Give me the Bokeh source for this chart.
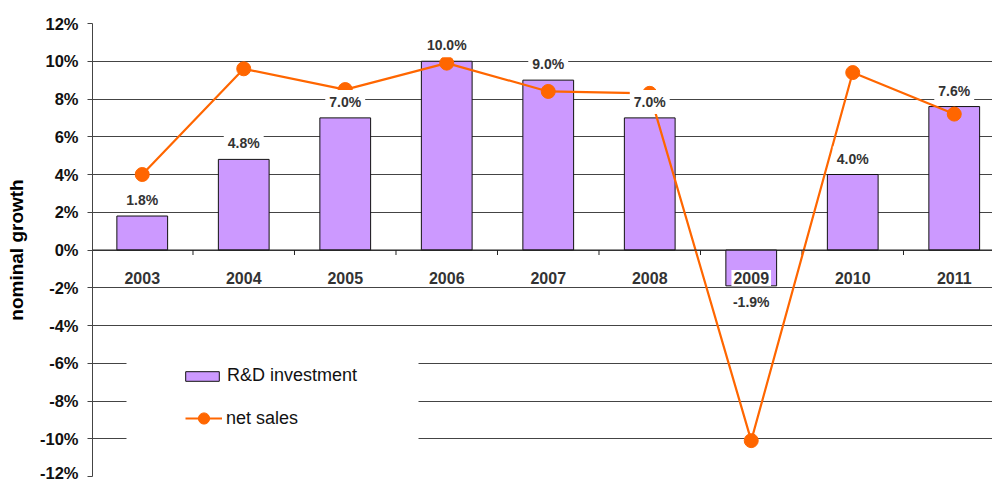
import math
from bokeh.plotting import figure
from bokeh.models import (ColumnDataSource, Range1d, FixedTicker, PrintfTickFormatter,
                          Legend, LegendItem, Span, BoxAnnotation)
from bokeh.core.properties import value
from bokeh.embed import file_html
from bokeh.resources import INLINE

# ---- data ----
years = ["2003", "2004", "2005", "2006", "2007", "2008", "2009", "2010", "2011"]
rd_investment = [1.8, 4.8, 7.0, 10.0, 9.0, 7.0, -1.9, 4.0, 7.6]
net_sales = [4.0, 9.6, 8.5, 9.9, 8.4, 8.3, -10.1, 9.4, 7.2]
y_ticks = [-12, -10, -8, -6, -4, -2, 0, 2, 4, 6, 8, 10, 12]

FONT = value("Liberation Sans")
PURPLE = "#CC99FF"
ORANGE = "#FF6600"
GRID = "#444444"

xs = list(range(len(years)))
src = ColumnDataSource(dict(
    x=xs,
    year=years,
    rd=rd_investment,
    sales=net_sales,
    rd_label=[f"{v:.1f}%" for v in rd_investment],
    rd_off=[-16 if v >= 0 else 16 for v in rd_investment],
    zero=[0] * len(years),
))
bounds = ColumnDataSource(dict(x=[i + 0.5 for i in xs], y=[0] * len(xs)))

p = figure(width=992, height=481, output_backend="svg", toolbar_location=None,
           x_range=Range1d(-0.49, 8.377), y_range=Range1d(y_ticks[0], y_ticks[-1]),
           min_border_left=92, min_border_right=0, min_border_top=23, min_border_bottom=5)
p.outline_line_color = None
p.background_fill_color = "white"
p.border_fill_color = "white"
p.xaxis.visible = False

# y axis
p.yaxis.ticker = FixedTicker(ticks=y_ticks)
p.yaxis.formatter = PrintfTickFormatter(format="%d%%")
p.yaxis.major_label_text_font = "Liberation Sans"
p.yaxis.major_label_text_font_style = "bold"
p.yaxis.major_label_text_font_size = "16.5px"
p.yaxis.major_label_text_color = "#111111"
p.yaxis.major_tick_out = 5
p.yaxis.major_tick_in = 0
p.yaxis.minor_tick_line_color = None
p.yaxis.major_label_standoff = 9
p.yaxis.axis_line_color = GRID
p.yaxis.major_tick_line_color = GRID
p.yaxis.axis_label = "nominal growth"
p.yaxis.axis_label_text_font = "Liberation Sans"
p.yaxis.axis_label_text_font_style = "bold"
p.yaxis.axis_label_text_font_size = "19px"
p.yaxis.axis_label_text_color = "#000000"
p.yaxis.axis_label_standoff = 10

# grid
p.xgrid.grid_line_color = None
p.ygrid.ticker = FixedTicker(ticks=y_ticks)
p.ygrid.grid_line_color = GRID
p.ygrid.grid_line_width = 1

# white backdrop behind the legend (covers grid lines)
p.add_layout(BoxAnnotation(left=34, right=326, bottom=11, top=146,
                           left_units="screen", right_units="screen",
                           bottom_units="screen", top_units="screen",
                           fill_color="white", fill_alpha=1.0, line_color=None,
                           level="underlay"))

# bars and line
bars = p.vbar(x="x", top="rd", bottom=0, width=0.5, source=src,
              fill_color=PURPLE, line_color="#111111", line_width=1)

# category axis line at zero with boundary ticks
p.add_layout(Span(location=0, dimension="width", line_color="#222222", line_width=1))
p.ray(x="x", y="y", length=5, length_units="screen", angle=-math.pi / 2,
      source=bounds, line_color="#222222", line_width=1)

line = p.line(x="x", y="sales", source=src, line_color=ORANGE, line_width=2.2)
dots = p.scatter(x="x", y="sales", source=src, size=14, fill_color=ORANGE, line_color=ORANGE)

# data labels
p.text(x="x", y="rd", text="rd_label", y_offset="rd_off", source=src,
       text_align="center", text_baseline="middle", text_font=FONT,
       text_font_style="bold", text_font_size="14px", text_color="#333333",
       background_fill_color="white", padding=4)

# category labels
p.text(x="x", y="zero", text="year", y_offset=28, source=src,
       text_align="center", text_baseline="middle", text_font=FONT,
       text_font_style="bold", text_font_size="16px", text_color="#333333",
       background_fill_color="white", padding=2)

# legends
leg1 = Legend(items=[LegendItem(label="R&D investment", renderers=[bars])],
              location=(89, 90), padding=2, glyph_width=42, glyph_height=12,
              label_height=20, label_standoff=4, spacing=0,
              background_fill_alpha=0.0, border_line_color=None,
              label_text_font="Liberation Sans", label_text_font_size="18px",
              label_text_color="#111111")
leg2 = Legend(items=[LegendItem(label="net sales", renderers=[line, dots])],
              location=(93, 44), padding=2, glyph_width=37, glyph_height=28,
              label_height=20, label_standoff=4, spacing=0,
              background_fill_alpha=0.0, border_line_color=None,
              label_text_font="Liberation Sans", label_text_font_size="18px",
              label_text_color="#111111")
p.add_layout(leg1, "center")
p.add_layout(leg2, "center")

open("out.html", "w").write(file_html(p, INLINE))
